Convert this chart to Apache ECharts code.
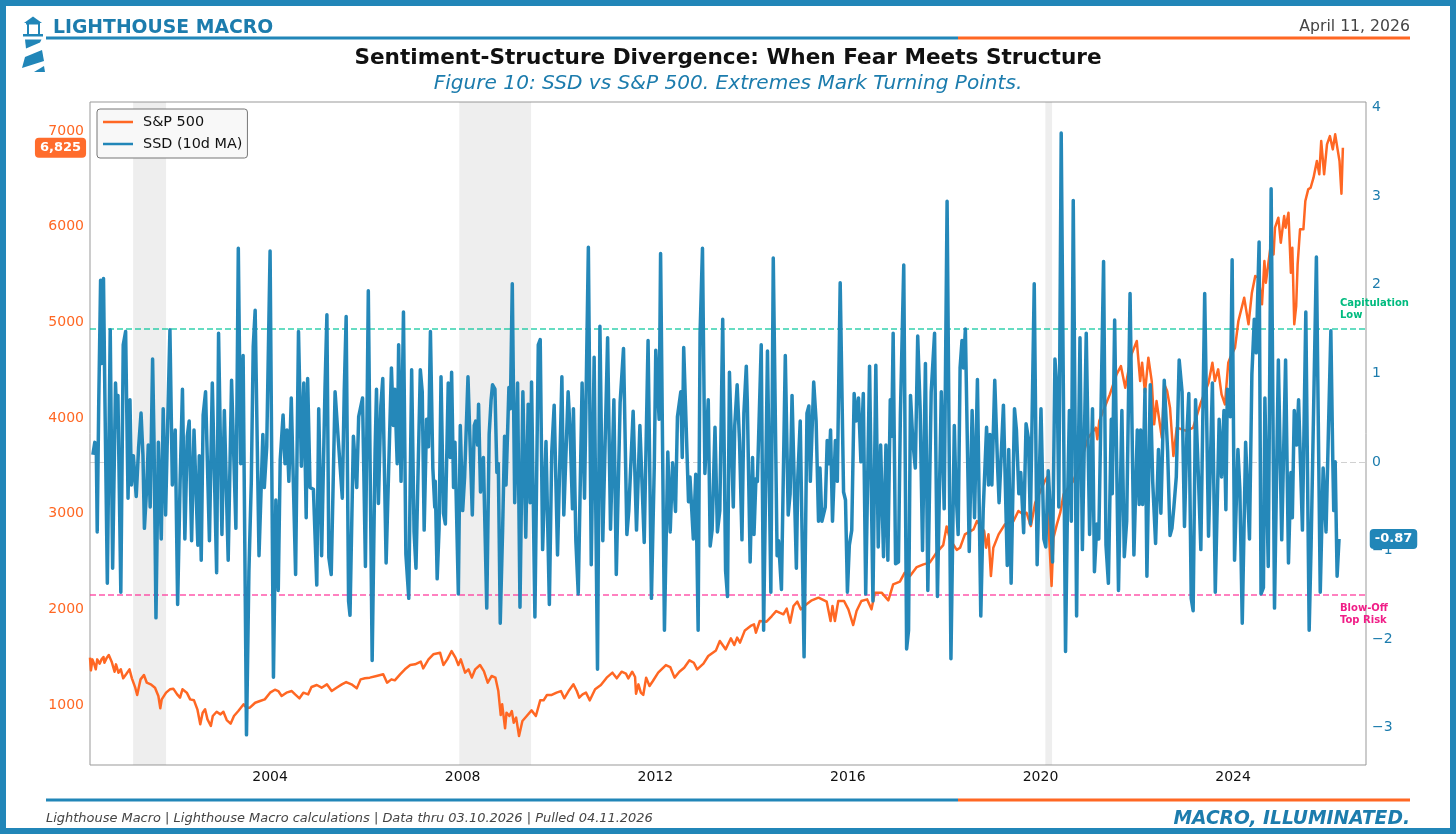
<!DOCTYPE html>
<html><head><meta charset="utf-8">
<style>html,body{margin:0;padding:0;background:#fff}#c{width:1456px;height:834px}</style>
<script src="https://cdn.jsdelivr.net/npm/echarts@6/dist/echarts.min.js"></script>
</head><body><div id="c"></div>
<script>
// [decimal year, SSD 10d MA]
const ssd2000to2006=[[2000.32,.08],[2000.36,.22],[2000.39,.19],[2000.41,-.79],[2000.44,.6],[2000.48,2.05],[2000.5,1.11],[2000.54,2.07],[2000.57,.7],[2000.62,-1.37],[2000.68,1.49],[2000.73,-1.2],[2000.79,.89],[2000.82,.39],[2000.84,.75],[2000.9,-1.47],[2000.95,1.32],[2001,1.47],[2001.02,.7],[2001.05,-.41],[2001.09,.7],[2001.12,-.26],[2001.16,.07],[2001.22,-.39],[2001.27,.17],[2001.32,.55],[2001.36,.07],[2001.39,-.75],[2001.44,-.26],[2001.47,.19],[2001.51,-.51],[2001.56,1.16],[2001.59,.22],[2001.63,-1.76],[2001.68,.22],[2001.74,-.87],[2001.78,.6],[2001.83,-.6],[2001.87,.36],[2001.92,1.49],[2001.97,-.26],[2002.03,.36],[2002.08,-1.61],[2002.13,-.26],[2002.18,.82],[2002.23,-.87],[2002.28,.29],[2002.32,.46],[2002.37,-.89],[2002.42,.36],[2002.5,-.94],[2002.53,.07],[2002.57,-1.11],[2002.61,.53],[2002.66,.79],[2002.74,-.89],[2002.8,.89],[2002.89,-1.25],[2002.93,1.45],[2003,-.82],[2003.05,.58],[2003.13,-1.11],[2003.2,.92],[2003.29,-.75],[2003.34,2.41],[2003.39,-.02],[2003.44,1.2],[2003.51,-3.08],[2003.56,-1.25],[2003.61,-.22],[2003.65,1.3],[2003.69,1.71],[2003.77,-1.06],[2003.85,.31],[2003.88,-.29],[2003.93,.17],[2004,2.38],[2004.07,-2.43],[2004.12,-.43],[2004.17,-1.45],[2004.21,.02],[2004.27,.53],[2004.31,-.02],[2004.35,.36],[2004.39,-.22],[2004.44,.72],[2004.53,-1.27],[2004.59,1.47],[2004.65,-.05],[2004.7,.89],[2004.75,-.63],[2004.78,.94],[2004.83,-.29],[2004.9,-.31],[2004.97,-1.39],[2005.01,.6],[2005.07,-1.06],[2005.14,.82],[2005.18,1.66],[2005.22,-1.08],[2005.27,-1.27],[2005.35,.79],[2005.42,.22],[2005.5,-.41],[2005.54,.79],[2005.58,1.64],[2005.63,-1.57],[2005.66,-1.73],[2005.73,.29],[2005.8,-.29],[2005.84,.51],[2005.92,.72],[2005.98,-1.18],[2006.04,1.93],[2006.12,-2.24],[2006.18,.1],[2006.21,.82],[2006.25,-.47],[2006.3,.63],[2006.34,.94],[2006.41,-1.14],[2006.52,1.06],[2006.56,.41],[2006.59,.82],[2006.64,-.02],[2006.67,1.32],[2006.72,-.22],[2006.77,1.69],[2006.82,-1.04],[2006.88,-1.54]];
const ssd2007to2013=[[2006.94,1.04],[2006.99,-.79],[2007.03,-1.2],[2007.12,1.04],[2007.16,.79],[2007.2,-.77],[2007.25,.48],[2007.29,.17],[2007.33,1.47],[2007.38,-.07],[2007.42,-.51],[2007.43,-.22],[2007.47,-1.32],[2007.51,-.75],[2007.55,.96],[2007.6,-.58],[2007.64,-.7],[2007.7,.89],[2007.74,.05],[2007.77,1.01],[2007.81,-.29],[2007.84,.22],[2007.91,-1.49],[2007.95,.41],[2008,-.55],[2008.04,-.17],[2008.11,.96],[2008.2,-.6],[2008.24,.41],[2008.27,.46],[2008.31,.19],[2008.33,.65],[2008.37,-.34],[2008.43,.05],[2008.5,-1.65],[2008.55,.31],[2008.59,.7],[2008.62,.87],[2008.67,.82],[2008.71,-.12],[2008.74,-.02],[2008.78,-1.82],[2008.83,-.75],[2008.87,.29],[2008.9,-.26],[2008.96,.84],[2008.99,.6],[2009.03,2.01],[2009.08,-.46],[2009.14,.89],[2009.19,-1.64],[2009.25,.79],[2009.31,-.85],[2009.36,.65],[2009.4,-.46],[2009.43,.9],[2009.5,-1.75],[2009.57,1.32],[2009.61,1.38],[2009.66,-.99],[2009.73,.23],[2009.8,-1.61],[2009.85,.12],[2009.9,.64],[2009.97,-1.05],[2010.06,.96],[2010.1,-.6],[2010.19,.79],[2010.23,.36],[2010.28,-.53],[2010.3,.6],[2010.35,-.89],[2010.4,-1.49],[2010.48,.89],[2010.53,-.41],[2010.61,2.42],[2010.67,-1.16],[2010.73,1.18],[2010.8,-2.34],[2010.85,1.53],[2010.91,-.89],[2011.01,1.4],[2011.07,-.76],[2011.14,.7],[2011.19,-1.27],[2011.27,.67],[2011.34,1.28],[2011.41,-.82],[2011.45,-.55],[2011.54,.57],[2011.61,-.77],[2011.68,.41],[2011.77,-.91],[2011.85,1.37],[2011.92,-1.54],[2011.98,-.02],[2012.01,1.26],[2012.08,.48],[2012.11,2.35],[2012.19,-1.9],[2012.26,.11],[2012.31,-.79],[2012.36,-.01],[2012.42,-.56],[2012.46,.51],[2012.53,.79],[2012.56,.05],[2012.59,1.29],[2012.69,-.45],[2012.72,-.17],[2012.79,-.87],[2012.84,-.14],[2012.89,-1.9],[2012.93,1.45],[2012.98,2.41],[2013.03,-.13],[2013.1,.7],[2013.14,-.95],[2013.18,-.77],[2013.24,.39],[2013.29,-.79],[2013.34,-.55],[2013.4,1.61],[2013.46,-1.23],[2013.5,-1.52],[2013.54,1.01]];
const ssd2013to2020=[[2013.57,.99],[2013.62,-.51],[2013.65,.41],[2013.7,.87],[2013.75,.22],[2013.8,-.88],[2013.84,.55],[2013.89,1.08],[2013.91,.7],[2013.97,-1.13],[2014.02,.05],[2014.05,-.82],[2014.09,-.19],[2014.12,-.22],[2014.2,1.32],[2014.25,-1.9],[2014.33,1.25],[2014.4,-1.47],[2014.45,2.3],[2014.53,-1.06],[2014.56,-.89],[2014.62,-1.44],[2014.7,1.2],[2014.76,-.6],[2014.8,-.36],[2014.84,.75],[2014.93,-1.2],[2014.96,-.17],[2015.01,.46],[2015.09,-2.2],[2015.15,.55],[2015.19,.63],[2015.22,-.22],[2015.29,.9],[2015.34,.46],[2015.39,-.67],[2015.42,-.07],[2015.46,-.67],[2015.53,-.51],[2015.57,.24],[2015.61,-.02],[2015.64,.36],[2015.68,-.67],[2015.74,.24],[2015.78,-.22],[2015.84,2.02],[2015.91,-.34],[2015.95,-.43],[2015.99,-1.47],[2016.03,-.94],[2016.08,-.77],[2016.13,.77],[2016.17,.46],[2016.22,.72],[2016.27,0],[2016.32,.77],[2016.37,-1.49],[2016.45,1.08],[2016.52,-1.57],[2016.58,1.09],[2016.63,-.96],[2016.68,.19],[2016.74,-1.07],[2016.79,.19],[2016.83,-1.11],[2016.88,.7],[2016.91,.29],[2016.94,1.45],[2016.99,-1.15],[2017.05,-1.13],[2017.09,.53],[2017.16,2.22],[2017.22,-2.11],[2017.26,-1.9],[2017.3,.75],[2017.35,.22],[2017.4,-.07],[2017.45,1.42],[2017.5,.6],[2017.55,-1],[2017.61,1.11],[2017.66,-1.45],[2017.73,.79],[2017.77,.79],[2017.8,1.45],[2017.86,-1.52],[2017.94,.79],[2018,-.53],[2018.06,2.94],[2018.14,-2.22],[2018.21,.41],[2018.24,-.26],[2018.29,-.82],[2018.33,1.06],[2018.37,1.37],[2018.4,1.06],[2018.44,1.5],[2018.52,-1.01],[2018.58,.58],[2018.63,-.63],[2018.69,.93],[2018.76,-1.74],[2018.81,-.55],[2018.88,.39],[2018.92,-.26],[2018.95,.31],[2018.99,-.26],[2019.05,.92],[2019.11,-.07],[2019.14,-.46],[2019.23,.64],[2019.31,-1.17],[2019.34,.14],[2019.39,-1.37],[2019.46,.6],[2019.5,.36],[2019.55,-.36],[2019.59,-.12],[2019.65,-.8],[2019.7,.43],[2019.75,.26],[2019.79,-.7],[2019.87,2.01],[2019.93,-1.16],[2020.01,.6],[2020.07,-.87],[2020.11,-.96],[2020.16,-.1]];
const ssd2020to2026=[[2020.21,-.6],[2020.25,-1.13],[2020.3,1.16],[2020.35,.75],[2020.38,-.51],[2020.43,3.71],[2020.52,-2.14],[2020.56,-.51],[2020.6,.58],[2020.64,-.67],[2020.68,2.95],[2020.75,-1.74],[2020.77,-.6],[2020.82,1.4],[2020.87,-.99],[2020.95,1.45],[2021.02,-.82],[2021.08,.6],[2021.12,-1.24],[2021.17,-.7],[2021.21,-.87],[2021.31,2.26],[2021.36,-.94],[2021.41,-1.37],[2021.47,.48],[2021.49,-.36],[2021.54,1.6],[2021.62,-1.45],[2021.69,.58],[2021.74,-1.07],[2021.79,-.67],[2021.86,1.9],[2021.94,-1.05],[2022.01,.36],[2022.05,-.48],[2022.08,.36],[2022.12,-.48],[2022.17,.82],[2022.21,-1.29],[2022.28,.87],[2022.33,-.22],[2022.39,-.92],[2022.45,.14],[2022.5,-.58],[2022.57,.92],[2022.64,.12],[2022.69,-.83],[2022.73,-.75],[2022.77,-.51],[2022.82,-.17],[2022.88,1.15],[2022.94,.79],[2022.99,-.73],[2023.04,.31],[2023.08,.77],[2023.13,-1.54],[2023.17,-1.68],[2023.22,.7],[2023.28,-.17],[2023.33,-.99],[2023.41,1.9],[2023.49,-.84],[2023.57,.89],[2023.63,-1.47],[2023.66,-1.47],[2023.71,.48],[2023.76,-.17],[2023.81,.58],[2023.85,-.54],[2023.88,.82],[2023.94,.51],[2023.98,2.28],[2024.03,-1.11],[2024.05,-1.13],[2024.1,.14],[2024.14,-.31],[2024.19,-1.82],[2024.26,.22],[2024.34,-.87],[2024.39,.99],[2024.44,1.61],[2024.48,1.23],[2024.54,2.48],[2024.58,-1.49],[2024.63,-1.42],[2024.66,.72],[2024.73,-1.18],[2024.79,3.08],[2024.86,-1.65],[2024.94,1.15],[2025.01,-.88],[2025.09,1.15],[2025.15,-1.14],[2025.2,-.12],[2025.23,-.63],[2025.27,.58],[2025.32,.19],[2025.36,.7],[2025.4,.72],[2025.44,-.77],[2025.51,1.69],[2025.58,-1.9],[2025.62,-.94],[2025.73,2.31],[2025.81,-1.47],[2025.87,-.07],[2025.93,-.79],[2025.98,.36],[2026.03,1.48],[2026.07,.02],[2026.09,-.55],[2026.12,0],[2026.16,-1.29],[2026.2,-.87]];
// [decimal year, S&P 500]
const spx2000to2009=[[2000.26,1495],[2000.28,1362],[2000.31,1477],[2000.35,1425],[2000.38,1373],[2000.41,1477],[2000.46,1432],[2000.5,1477],[2000.54,1502],[2000.56,1442],[2000.61,1495],[2000.65,1523],[2000.71,1453],[2000.77,1348],[2000.8,1425],[2000.85,1338],[2000.9,1373],[2000.95,1279],[2001.01,1321],[2001.08,1373],[2001.13,1279],[2001.2,1181],[2001.24,1105],[2001.28,1199],[2001.31,1268],[2001.38,1314],[2001.44,1233],[2001.52,1216],[2001.61,1181],[2001.68,1094],[2001.72,965],[2001.75,1059],[2001.84,1129],[2001.92,1164],[2001.99,1171],[2002.07,1111],[2002.13,1077],[2002.18,1164],[2002.27,1129],[2002.34,1059],[2002.42,1049],[2002.49,955],[2002.55,798],[2002.6,920],[2002.65,955],[2002.7,850],[2002.77,781],[2002.81,885],[2002.89,930],[2002.97,902],[2003.03,930],[2003.1,843],[2003.18,805],[2003.25,885],[2003.34,937],[2003.45,1007],[2003.51,972],[2003.58,972],[2003.69,1024],[2003.79,1042],[2003.89,1059],[2004,1129],[2004.1,1160],[2004.17,1146],[2004.24,1094],[2004.34,1129],[2004.45,1146],[2004.52,1111],[2004.61,1070],[2004.69,1129],[2004.79,1111],[2004.86,1188],[2004.97,1209],[2005.07,1181],[2005.18,1216],[2005.28,1146],[2005.38,1181],[2005.49,1216],[2005.58,1240],[2005.69,1216],[2005.8,1174],[2005.88,1268],[2005.97,1279],[2006.07,1286],[2006.21,1303],[2006.35,1321],[2006.43,1233],[2006.52,1268],[2006.59,1258],[2006.7,1321],[2006.8,1373],[2006.91,1418],[2007.01,1425],[2007.13,1453],[2007.18,1383],[2007.29,1477],[2007.39,1530],[2007.53,1547],[2007.6,1418],[2007.68,1477],[2007.77,1564],[2007.85,1495],[2007.91,1418],[2007.96,1477],[2008.05,1338],[2008.12,1373],[2008.19,1286],[2008.26,1373],[2008.36,1418],[2008.44,1355],[2008.52,1233],[2008.6,1303],[2008.68,1286],[2008.74,1146],[2008.79,895],[2008.82,1007],[2008.88,756],[2008.91,920],[2008.97,885],[2009.02,937],[2009.06,815],[2009.11,868],[2009.17,676],[2009.24,833],[2009.33,885],[2009.43,944],[2009.52,885]];
const spx2009to2018=[[2009.61,1049],[2009.68,1049],[2009.75,1105],[2009.85,1105],[2009.95,1129],[2010.04,1146],[2010.11,1070],[2010.2,1146],[2010.3,1216],[2010.37,1146],[2010.42,1077],[2010.49,1111],[2010.56,1129],[2010.64,1049],[2010.75,1164],[2010.87,1209],[2010.99,1286],[2011.11,1338],[2011.2,1279],[2011.3,1348],[2011.39,1328],[2011.44,1279],[2011.52,1348],[2011.58,1293],[2011.6,1118],[2011.65,1216],[2011.7,1129],[2011.75,1105],[2011.81,1286],[2011.88,1199],[2011.95,1251],[2012.06,1338],[2012.22,1418],[2012.31,1397],[2012.4,1286],[2012.5,1348],[2012.6,1390],[2012.71,1467],[2012.8,1442],[2012.87,1373],[2013,1432],[2013.1,1512],[2013.26,1571],[2013.34,1669],[2013.46,1582],[2013.57,1697],[2013.64,1627],[2013.7,1704],[2013.76,1652],[2013.86,1780],[2013.98,1826],[2014.05,1843],[2014.09,1756],[2014.17,1878],[2014.31,1871],[2014.42,1930],[2014.51,1982],[2014.58,1965],[2014.66,1948],[2014.73,2007],[2014.8,1861],[2014.87,2035],[2014.95,2080],[2015.02,2000],[2015.14,2052],[2015.25,2094],[2015.39,2122],[2015.56,2080],[2015.64,1878],[2015.68,2035],[2015.73,1878],[2015.8,2087],[2015.92,2087],[2016.01,2000],[2016.11,1836],[2016.18,1982],[2016.28,2087],[2016.4,2104],[2016.49,2000],[2016.56,2174],[2016.7,2174],[2016.84,2094],[2016.94,2261],[2017.08,2289],[2017.18,2383],[2017.29,2348],[2017.43,2442],[2017.57,2470],[2017.7,2488],[2017.84,2592],[2017.98,2672],[2018.05,2867],[2018.12,2733],[2018.26,2622]];
const spx2018to2024=[[2018.33,2644],[2018.43,2784],[2018.61,2836],[2018.68,2923],[2018.83,2819],[2018.87,2644],[2018.92,2784],[2018.97,2348],[2019.02,2644],[2019.13,2784],[2019.26,2888],[2019.44,2923],[2019.54,3028],[2019.64,2993],[2019.71,3010],[2019.8,2871],[2019.89,3115],[2020,3237],[2020.09,3341],[2020.14,3386],[2020.18,2749],[2020.23,2244],[2020.27,2749],[2020.34,2888],[2020.41,3010],[2020.48,3202],[2020.68,3341],[2020.82,3515],[2020.99,3794],[2021.15,3899],[2021.18,3777],[2021.22,3968],[2021.37,4160],[2021.44,4247],[2021.58,4456],[2021.67,4543],[2021.76,4317],[2021.89,4665],[2022,4805],[2022.07,4386],[2022.11,4578],[2022.17,4265],[2022.24,4630],[2022.31,4386],[2022.36,3934],[2022.41,4177],[2022.52,3794],[2022.57,4352],[2022.63,4282],[2022.69,4108],[2022.76,3603],[2022.83,3899],[2023.04,3864],[2023.17,3899],[2023.33,4160],[2023.49,4369],[2023.57,4578],[2023.62,4386],[2023.69,4508],[2023.76,4247],[2023.83,4142],[2023.9,4578]];
const spx2024to2026=[[2023.94,4630],[2024.04,4735],[2024.11,5014],[2024.23,5257],[2024.32,4979],[2024.39,5310],[2024.46,5484],[2024.53,5466],[2024.6,5188],[2024.65,5641],[2024.68,5414],[2024.77,5763],[2024.84,5710],[2024.87,5989],[2024.94,6094],[2024.99,5832],[2025.06,6111],[2025.09,5989],[2025.15,6146],[2025.2,5519],[2025.23,5780],[2025.27,4979],[2025.31,5170],[2025.34,5606],[2025.39,5972],[2025.46,5972],[2025.5,6268],[2025.56,6390],[2025.61,6407],[2025.67,6512],[2025.74,6686],[2025.79,6547],[2025.83,6895],[2025.89,6547],[2025.95,6860],[2026.01,6947],[2026.07,6808],[2026.12,6965],[2026.17,6808],[2026.21,6686],[2026.25,6345],[2026.28,6825]];
const recessions=[[2001.155,2001.84],[2007.93,2009.42],[2020.1,2020.24]];
const yearTicks=[2004,2008,2012,2016,2020,2024];
const spxTicks=[1000,2000,3000,4000,5000,6000,7000];
const ssdTicks=[-3,-2,-1,0,1,2,3,4];
const capitulationLevel=1.5, blowOffLevel=-1.5;
const lastSpx=6825, lastSsd=-0.87;
const FONT='"DejaVu Sans"';
const BLUE='#2186B8', ORANGE='#FF6723', TEXTBLUE='#1C7CAD';
const ssd=[...ssd2000to2006,...ssd2007to2013,...ssd2013to2020,...ssd2020to2026];
const spx=[...spx2000to2009,...spx2009to2018,...spx2018to2024,...spx2024to2026];
const chart=echarts.init(document.getElementById('c'),null,{renderer:'canvas'});
const W=1456,H=834;
function rule(y){return [
 {type:'rect',shape:{x:46,y:y-1.5,width:912,height:3},style:{fill:BLUE},silent:true},
 {type:'rect',shape:{x:958,y:y-1.5,width:452,height:3},style:{fill:ORANGE},silent:true}];}
const icon=[
 {type:'polygon',shape:{points:[[24,23],[33,16.5],[42,23]]},style:{fill:BLUE}},
 {type:'rect',shape:{x:26,y:23,width:14,height:1.5},style:{fill:BLUE}},
 {type:'rect',shape:{x:27,y:24,width:2,height:10},style:{fill:BLUE}},
 {type:'rect',shape:{x:38,y:24,width:2,height:10},style:{fill:BLUE}},
 {type:'rect',shape:{x:23,y:34,width:20,height:2.5},style:{fill:BLUE}},
 {type:'polygon',shape:{points:[[25,39.5],[41.5,39.5],[40,42.5],[26,48.5]]},style:{fill:BLUE}},
 {type:'polygon',shape:{points:[[25,57],[42,50],[44,61],[22,68]]},style:{fill:BLUE}},
 {type:'polygon',shape:{points:[[34,72],[44,66],[45,72]]},style:{fill:BLUE}}
];
chart.setOption({
 animation:false,
 backgroundColor:'#fff',
 textStyle:{fontFamily:FONT},
 title:[
  {text:'Sentiment-Structure Divergence: When Fear Meets Structure',left:723,top:42,textAlign:'center',textStyle:{fontFamily:FONT,fontSize:21.6,fontWeight:'bold',color:'#111'}},
  {text:'Figure 10: SSD vs S&P 500. Extremes Mark Turning Points.',left:723,top:69,textAlign:'center',textStyle:{fontFamily:FONT,fontSize:20.1,fontStyle:'italic',fontWeight:'normal',color:TEXTBLUE}}
 ],
 legend:{left:97,top:109,orient:'vertical',itemWidth:30,itemHeight:2.5,itemGap:6,padding:[5,5,6,6],
  backgroundColor:'#f8f8f8',borderColor:'#777',borderWidth:1,borderRadius:3,
  textStyle:{fontFamily:FONT,fontSize:14.4,color:'#111',padding:[0,0,0,5],lineHeight:16},
  data:[{name:'S&P 500',icon:'rect'},{name:'SSD (10d MA)',icon:'rect'}]},
 grid:{left:90,right:90,top:102,bottom:69,show:true,borderColor:'#999',borderWidth:1,backgroundColor:'transparent'},
 xAxis:{type:'value',min:2000.26,max:2026.76,splitLine:{show:false},axisLine:{show:false},axisTick:{show:false},
  axisLabel:{customValues:yearTicks,formatter:v=>String(v),fontFamily:FONT,fontSize:14,color:'#111',margin:5}},
 yAxis:[
  {type:'value',position:'left',min:373,max:7303,splitLine:{show:false},axisLine:{show:false},axisTick:{show:false},
   axisLabel:{customValues:spxTicks,fontFamily:FONT,fontSize:14,color:ORANGE,margin:6,formatter:v=>String(v)}},
  {type:'value',position:'right',min:-3.42,max:4.06,splitLine:{show:false},axisLine:{show:false},axisTick:{show:false},
   axisLabel:{customValues:ssdTicks,fontFamily:FONT,fontSize:14,color:TEXTBLUE,margin:6,formatter:v=>String(v).replace('-','\u2212')}}
 ],
 series:[
  {name:'S&P 500',type:'line',yAxisIndex:0,data:spx,showSymbol:false,symbol:'none',z:3,
   lineStyle:{color:ORANGE,width:2.5,join:'round'},itemStyle:{color:ORANGE},
   markArea:{silent:true,z:1,itemStyle:{color:'rgba(136,136,136,0.14)'},data:recessions.map(r=>[{xAxis:r[0]},{xAxis:r[1]}])}},
  {name:'SSD (10d MA)',type:'line',yAxisIndex:1,data:ssd,showSymbol:false,symbol:'none',z:4,
   lineStyle:{color:BLUE,width:3.5,join:'round',opacity:.98},itemStyle:{color:BLUE},
   markLine:{silent:true,symbol:'none',z:2,label:{show:false},data:[
    {yAxis:capitulationLevel,lineStyle:{color:'#00C49A',width:1.5,type:[6,3],opacity:.8}},
    {yAxis:blowOffLevel,lineStyle:{color:'#FF2D96',width:1.6,type:[6,3],opacity:.8}},
    {yAxis:0,lineStyle:{color:'#aaa',width:.9,type:[6,3],opacity:.6}}
   ]}}
 ]
});
const yL=chart.convertToPixel({yAxisIndex:0},lastSpx), yR=chart.convertToPixel({yAxisIndex:1},lastSsd);
chart.setOption({graphic:{elements:[
 ...icon,
 ...rule(38),...rule(800),
 {type:'text',style:{x:53,y:28,text:'LIGHTHOUSE MACRO',font:'bold 18.8px '+FONT,fill:TEXTBLUE,verticalAlign:'middle'}},
 {type:'text',style:{x:1410,y:26.5,text:'April 11, 2026',font:'15.7px '+FONT,fill:'#444',align:'right',verticalAlign:'middle'}},
 {type:'text',style:{x:46,y:819,text:'Lighthouse Macro | Lighthouse Macro calculations | Data thru 03.10.2026 | Pulled 04.11.2026',font:'italic 12.96px '+FONT,fill:'#444',verticalAlign:'middle'}},
 {type:'text',style:{x:1410,y:819,text:'MACRO, ILLUMINATED.',font:'italic bold 18.7px '+FONT,fill:TEXTBLUE,align:'right',verticalAlign:'middle'}},
 {type:'text',z:20,style:{x:1340,y:309,text:'Capitulation\nLow',font:'bold 10px '+FONT,fill:'#00BB7F',lineHeight:12,verticalAlign:'middle'}},
 {type:'text',z:20,style:{x:1340,y:614,text:'Blow-Off\nTop Risk',font:'bold 10px '+FONT,fill:'#F01E87',lineHeight:12,verticalAlign:'middle'}},
 {type:'text',z:20,style:{x:60.5,y:yL,text:lastSpx.toLocaleString('en-US'),font:'bold 13px '+FONT,fill:'#fff',align:'center',verticalAlign:'middle',backgroundColor:'#FF6C2C',borderRadius:4,padding:[4,5,3,5]}},
 {type:'text',z:20,style:{x:1393.5,y:yR,text:lastSsd.toFixed(2),font:'bold 13px '+FONT,fill:'#fff',align:'center',verticalAlign:'middle',backgroundColor:BLUE,borderRadius:4,padding:[4,5,3,5]}},
 {type:'rect',z:30,silent:true,shape:{x:3,y:3,width:W-6,height:H-6},style:{fill:'none',stroke:BLUE,lineWidth:6}}
]}});
</script></body></html>
